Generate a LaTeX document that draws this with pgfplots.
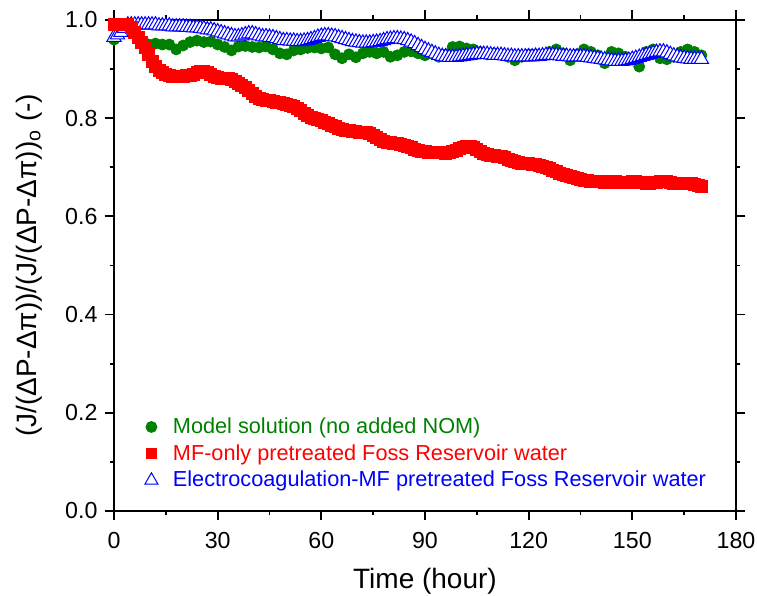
\documentclass[border=0pt]{standalone}
\usepackage{fontspec}
\setmainfont{Liberation Sans}
\usepackage{pgfplots}
\pgfplotsset{compat=1.18}
\definecolor{mygreen}{RGB}{0,128,0}
\begin{document}
\begin{tikzpicture}
\begin{axis}[
  scale only axis, width=311pt, height=245.5pt,
  xmin=0, xmax=180, ymin=0, ymax=1,
  xtick={0,30,...,180}, ytick={0,0.2,0.4,0.6,0.8,1.0},
  minor x tick num=1, minor y tick num=1,
  tick align=outside, major tick length=4.75pt, minor tick length=2.25pt,
  axis line style={line width=0.9pt},
  tick style={line width=0.9pt, black},
  /pgf/number format/assume math mode=true,
  yticklabel style={/pgf/number format/fixed, /pgf/number format/fixed zerofill, /pgf/number format/precision=1},
  xticklabel style={yshift=-2.5pt},
  tick label style={font=\fontsize{11.6}{14}\selectfont},
  xlabel={Time (hour)},
  ylabel={(J/(ΔP-Δπ))/(J/(ΔP-Δπ))\textsubscript{o} (-)},
  label style={font=\fontsize{14}{16}\selectfont},
  xlabel style={at={(axis description cs:0.5,-0.1426)}, anchor=center},
  ylabel style={at={(axis description cs:-0.137,0.5)}, anchor=center},
  legend style={draw=none, fill=none, at={(axis description cs:0.0393,0.026)}, anchor=south west,
    font=\fontsize{10.85}{13}\selectfont, row sep=0pt},
  legend cell align=left,
  legend image code/.code={\draw[#1] plot coordinates {(0pt,0pt)}; \path[draw=none, fill=none] (-2.75pt,0pt) -- (8.75pt,0pt);},
]
\coordinate (BL) at (rel axis cs:-0.1833,-0.1731);
\coordinate (TR) at (rel axis cs:1.0338,1.0407);
% Model solution
\addplot[only marks, mark=*, mark size=2.75pt, color=mygreen, fill=mygreen] coordinates {
(0,0.96)(2,0.975)(4,0.99)(6,0.98)(8,0.955)(10,0.95)(12,0.952)(14,0.95)(16,0.95)(18,0.94)
(20,0.948)(22,0.955)(24,0.958)(26,0.955)(28,0.956)(30,0.95)(32,0.945)(34,0.938)(36,0.946)(38,0.947)
(40,0.945)(42,0.944)(44,0.946)(46,0.94)(48,0.932)(50,0.93)(52,0.938)(54,0.94)(56,0.943)(58,0.944)
(60,0.942)(62,0.944)(64,0.93)(66,0.922)(68,0.93)(70,0.924)(72,0.932)(74,0.935)(76,0.932)(78,0.935)
(80,0.925)(82,0.928)(84,0.935)(86,0.936)(88,0.932)(90,0.928)(92,0.932)(94,0.925)(96,0.93)(98,0.945)
(100,0.946)(102,0.942)(104,0.94)(106,0.935)(108,0.93)(110,0.932)(112,0.93)(114,0.925)(116,0.918)(118,0.925)
(120,0.93)(122,0.93)(124,0.928)(126,0.935)(128,0.94)(130,0.932)(132,0.918)(134,0.93)(136,0.94)(138,0.935)
(140,0.928)(142,0.912)(144,0.935)(146,0.932)(148,0.925)(150,0.922)(152,0.905)(154,0.935)(156,0.94)(158,0.922)
(160,0.92)(162,0.925)(164,0.935)(166,0.94)(168,0.935)(170,0.928)
};
\addlegendentry[text=mygreen]{Model solution (no added NOM)}
% Electrocoagulation-MF
\addplot[only marks, mark=triangle*, mark size=4.1pt, color=blue, mark options={fill=white, line width=0.5pt}, forget plot] coordinates {
(0,0.965)(1,0.97)(2,0.975)(3,0.983)(4,0.99)(5,0.99)(6,0.99)(7,0.99)(8,0.99)(9,0.99)
(10,0.99)(11,0.99)(12,0.99)(13,0.988)(14,0.988)(15,0.988)(16,0.988)(17,0.986)(18,0.986)(19,0.986)
(20,0.986)(21,0.985)(22,0.985)(23,0.984)(24,0.984)(25,0.983)(26,0.982)(27,0.98)(28,0.98)(29,0.978)
(30,0.976)(31,0.974)(32,0.972)(33,0.97)(34,0.968)(35,0.966)(36,0.966)(37,0.968)(38,0.97)(39,0.972)
(40,0.972)(41,0.97)(42,0.968)(43,0.966)(44,0.966)(45,0.965)(46,0.964)(47,0.962)(48,0.96)(49,0.958)
(50,0.958)(51,0.957)(52,0.957)(53,0.956)(54,0.956)(55,0.957)(56,0.958)(57,0.96)(58,0.962)(59,0.965)
(60,0.967)(61,0.968)(62,0.968)(63,0.967)(64,0.966)(65,0.964)(66,0.962)(67,0.96)(68,0.958)(69,0.956)
(70,0.955)(71,0.954)(72,0.953)(73,0.953)(74,0.953)(75,0.954)(76,0.955)(77,0.956)(78,0.958)(79,0.96)
(80,0.961)(81,0.962)(82,0.962)(83,0.961)(84,0.96)(85,0.958)(86,0.955)(87,0.952)(88,0.948)(89,0.944)
(90,0.94)(91,0.937)(92,0.934)(93,0.931)(94,0.928)(95,0.926)(96,0.925)(97,0.924)(98,0.924)(99,0.924)
(100,0.925)(101,0.926)(102,0.927)(103,0.928)(104,0.929)(105,0.93)(106,0.93)(107,0.93)(108,0.93)(109,0.929)
(110,0.928)(111,0.928)(112,0.928)(113,0.927)(114,0.926)(115,0.926)(116,0.925)(117,0.925)(118,0.925)(119,0.925)
(120,0.925)(121,0.925)(122,0.926)(123,0.926)(124,0.927)(125,0.928)(126,0.928)(127,0.928)(128,0.928)(129,0.927)
(130,0.926)(131,0.926)(132,0.925)(133,0.925)(134,0.925)(135,0.925)(136,0.925)(137,0.924)(138,0.923)(139,0.922)
(140,0.921)(141,0.92)(142,0.919)(143,0.918)(144,0.917)(145,0.916)(146,0.916)(147,0.916)(148,0.917)(149,0.918)
(150,0.92)(151,0.922)(152,0.924)(153,0.926)(154,0.928)(155,0.93)(156,0.932)(157,0.934)(158,0.935)(159,0.935)
(160,0.933)(161,0.93)(162,0.927)(163,0.925)(164,0.923)(165,0.922)(166,0.921)(167,0.92)(168,0.92)(169,0.92)
(170,0.92)
};
% MF-only
\addplot[only marks, mark=square*, mark size=3pt, color=red, fill=red, forget plot] coordinates {
(0,0.99)(1,0.99)(2,0.99)(3,0.99)(4,0.99)(5,0.985)(6,0.975)(7,0.965)(8,0.955)(9,0.945)
(10,0.93)(11,0.915)(12,0.905)(13,0.898)(14,0.893)(15,0.89)(16,0.888)(17,0.886)(18,0.886)(19,0.885)
(20,0.886)(21,0.887)(22,0.888)(23,0.89)(24,0.893)(25,0.895)(26,0.895)(27,0.893)(28,0.89)(29,0.886)
(30,0.883)(31,0.882)(32,0.881)(33,0.88)(34,0.878)(35,0.875)(36,0.87)(37,0.866)(38,0.862)(39,0.856)
(40,0.85)(41,0.845)(42,0.84)(43,0.838)(44,0.837)(45,0.836)(46,0.835)(47,0.833)(48,0.832)(49,0.83)
(50,0.828)(51,0.826)(52,0.823)(53,0.82)(54,0.816)(55,0.81)(56,0.806)(57,0.802)(58,0.8)(59,0.797)
(60,0.795)(61,0.792)(62,0.789)(63,0.786)(64,0.783)(65,0.78)(66,0.778)(67,0.776)(68,0.775)(69,0.774)
(70,0.773)(71,0.772)(72,0.771)(73,0.77)(74,0.768)(75,0.764)(76,0.76)(77,0.756)(78,0.753)(79,0.751)
(80,0.75)(81,0.749)(82,0.748)(83,0.747)(84,0.745)(85,0.743)(86,0.74)(87,0.737)(88,0.735)(89,0.733)
(90,0.732)(91,0.731)(92,0.73)(93,0.73)(94,0.731)(95,0.73)(96,0.729)(97,0.73)(98,0.732)(99,0.735)
(100,0.738)(101,0.74)(102,0.742)(103,0.742)(104,0.74)(105,0.736)(106,0.732)(107,0.728)(108,0.726)(109,0.725)
(110,0.724)(111,0.723)(112,0.722)(113,0.72)(114,0.717)(115,0.714)(116,0.711)(117,0.709)(118,0.708)(119,0.708)
(120,0.707)(121,0.706)(122,0.705)(123,0.704)(124,0.702)(125,0.7)(126,0.697)(127,0.694)(128,0.691)(129,0.688)
(130,0.685)(131,0.683)(132,0.681)(133,0.679)(134,0.677)(135,0.675)(136,0.674)(137,0.673)(138,0.672)(139,0.672)
(140,0.671)(141,0.671)(142,0.67)(143,0.67)(144,0.671)(145,0.671)(146,0.67)(147,0.669)(148,0.669)(149,0.67)
(150,0.671)(151,0.671)(152,0.67)(153,0.669)(154,0.668)(155,0.668)(156,0.669)(157,0.67)(158,0.671)(159,0.672)
(160,0.671)(161,0.67)(162,0.668)(163,0.667)(164,0.667)(165,0.668)(166,0.668)(167,0.667)(168,0.665)(169,0.663)
(170,0.661)
};
\addlegendimage{only marks, mark=square*, mark size=2.5pt, color=red, fill=red}
\addlegendentry[text=red]{MF-only pretreated Foss Reservoir water}
\addlegendimage{only marks, mark=triangle*, mark size=3.8pt, color=blue, mark options={fill=white, line width=0.5pt}}
\addlegendentry[text=blue]{Electrocoagulation-MF pretreated Foss Reservoir water}
\end{axis}
\pgfresetboundingbox
\path[use as bounding box] (BL) rectangle (TR);
\end{tikzpicture}
\end{document}
